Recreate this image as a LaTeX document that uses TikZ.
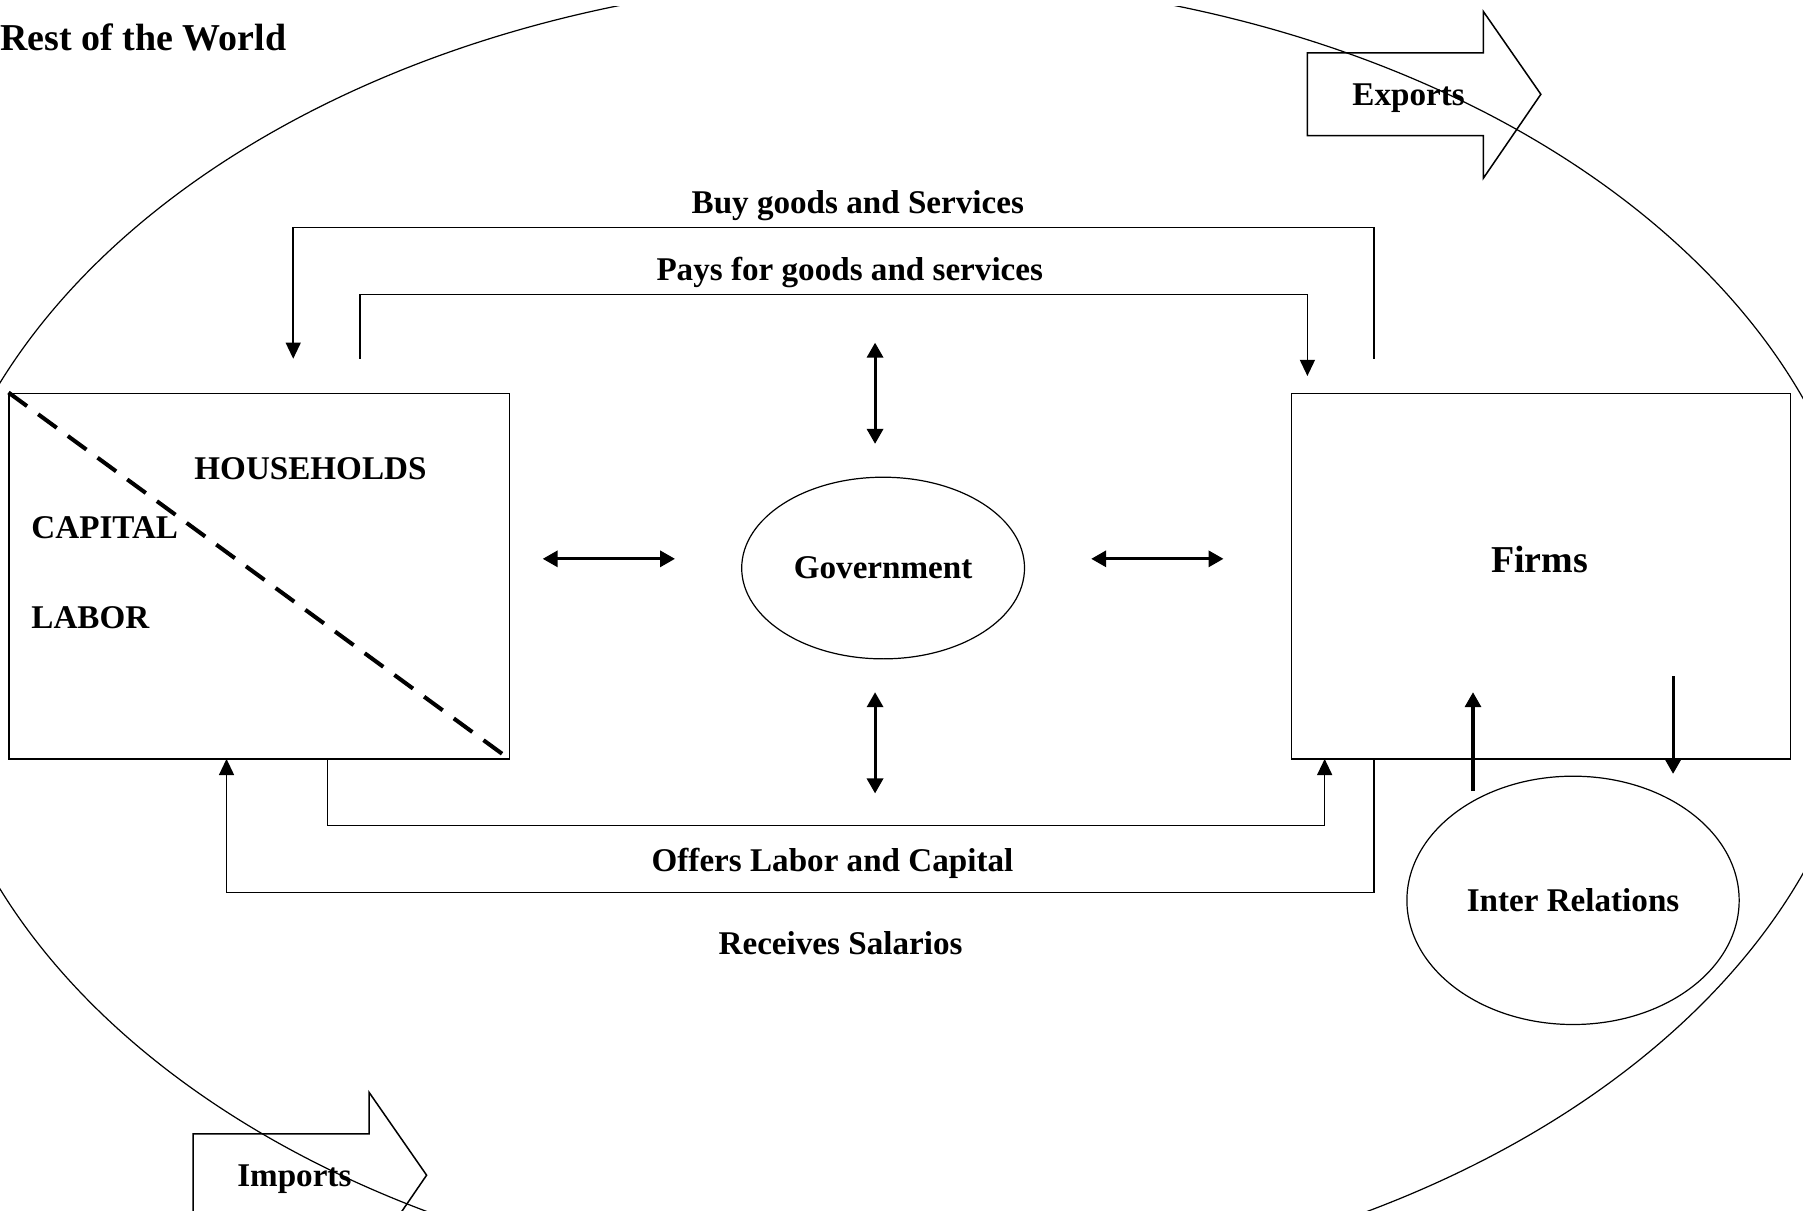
\documentclass[tikz,border=0pt]{standalone}
\usepackage{fontspec}
\setmainfont{Liberation Serif}
\usepackage{tikz}
\usetikzlibrary{arrows.meta,shapes.geometric}

\begin{document}
\begin{tikzpicture}[x=0.02cm, y=-0.02cm,
  lbl/.style={font=\bfseries\fontsize{16.4}{18}\selectfont, inner sep=0pt},
  bigl/.style={font=\bfseries\fontsize{18.8}{21}\selectfont, inner sep=0pt},
  box/.style={draw, line width=0.75pt, inner sep=0pt},
  oval/.style={draw, ellipse, line width=0.6pt, inner sep=0pt},
  flow/.style={line width=0.75pt, -{Triangle[length=0.28cm,width=0.26cm]}},
  link/.style={line width=1.5pt, {Triangle[length=0.26cm,width=0.28cm]}-{Triangle[length=0.26cm,width=0.28cm]}},
  feed/.style={line width=1.5pt, -{Triangle[length=0.26cm,width=0.28cm]}},
  dashline/.style={line width=2pt, dash pattern=on 0.4cm off 0.24cm},
  bigarrow/.style={line width=0.75pt, line join=miter}]

\useasboundingbox (0,0) rectangle (1568,1053);

\begin{scope}
\clip (0,6) rectangle (1568,1053);
\node (world) at (780,553) [oval, minimum width=33.8cm, minimum height=22.88cm]{};
\end{scope}
\node (title) at (0,44) [bigl, anchor=base west]{Rest of the World};

\begin{scope}
\clip (0,0) rectangle (1568,1053);
\draw[bigarrow] (1137,46) -- (1290,46) -- (1290,10) -- (1340,82) -- (1290,155) -- (1290,118) -- (1137,118) -- cycle;
\draw[bigarrow] (168,986) -- (321,986) -- (321,950) -- (371,1022) -- (321,1095) -- (321,1059) -- (168,1059) -- cycle;
\end{scope}
\node (exports) at (1225,92) [lbl, anchor=base]{Exports};
\node (imports) at (256,1032) [lbl, anchor=base]{Imports};

\node (hh) at (225.5,501) [box, minimum width=8.7cm, minimum height=6.36cm]{};
\draw[dashline] (hh.north west) -- (hh.south east);
\node (hhlbl) at (270,417) [lbl, anchor=base]{HOUSEHOLDS};
\node (capital) at (27,468) [lbl, anchor=base west]{CAPITAL};
\node (labor) at (27,547) [lbl, anchor=base west]{LABOR};

\node (firms) at (1340,501) [box, minimum width=8.68cm, minimum height=6.36cm]{};
\node (firmslbl) at (1339,498) [bigl, anchor=base]{Firms};

\node (gov) at (768,494) [oval, lbl, minimum width=4.92cm, minimum height=3.16cm]{Government};
\node (inter) at (1368,783) [oval, lbl, minimum width=5.78cm, minimum height=4.32cm]{Inter Relations};

\coordinate (hgL) at (472,486);
\coordinate (hgR) at (587,486);
\coordinate (gfL) at (949,486);
\coordinate (gfR) at (1064,486);
\coordinate (gT1) at (761,298);
\coordinate (gT2) at (761,386);
\coordinate (gB1) at (761,602);
\coordinate (gB2) at (761,690);
\draw[link] (hgL) -- (hgR);
\draw[link] (gfL) -- (gfR);
\draw[link] (gT1) -- (gT2);
\draw[link] (gB1) -- (gB2);

\coordinate (buyA) at (1195,312);
\coordinate (buyB) at (1195,198);
\coordinate (buyC) at (255,312);
\draw[flow] (buyA) -- (buyB) -| (buyC);
\node (buy) at (746,186) [lbl, anchor=base]{Buy goods and Services};

\coordinate (payA) at (313,312);
\coordinate (payB) at (313,256);
\coordinate (payC) at (1137,327);
\draw[flow] (payA) -- (payB) -| (payC);
\node (pay) at (739,244) [lbl, anchor=base]{Pays for goods and services};

\coordinate (offA) at (285,660);
\coordinate (offB) at (285,718);
\coordinate (offC) at (1152,660);
\draw[flow] (offA) -- (offB) -| (offC);
\node (offers) at (724,758) [lbl, anchor=base]{Offers Labor and Capital};

\coordinate (recA) at (1195,660);
\coordinate (recB) at (1195,776);
\coordinate (recC) at (197,660);
\draw[flow] (recA) -- (recB) -| (recC);
\node (receives) at (731,830) [lbl, anchor=base]{Receives Salarios};

\coordinate (irU1) at (1281,688);
\coordinate (irU2) at (1281,602);
\coordinate (irD1) at (1455,588);
\coordinate (irD2) at (1455,673);
\draw[feed] (irU1) -- (irU2);
\draw[feed] (irD1) -- (irD2);

\end{tikzpicture}
\end{document}
